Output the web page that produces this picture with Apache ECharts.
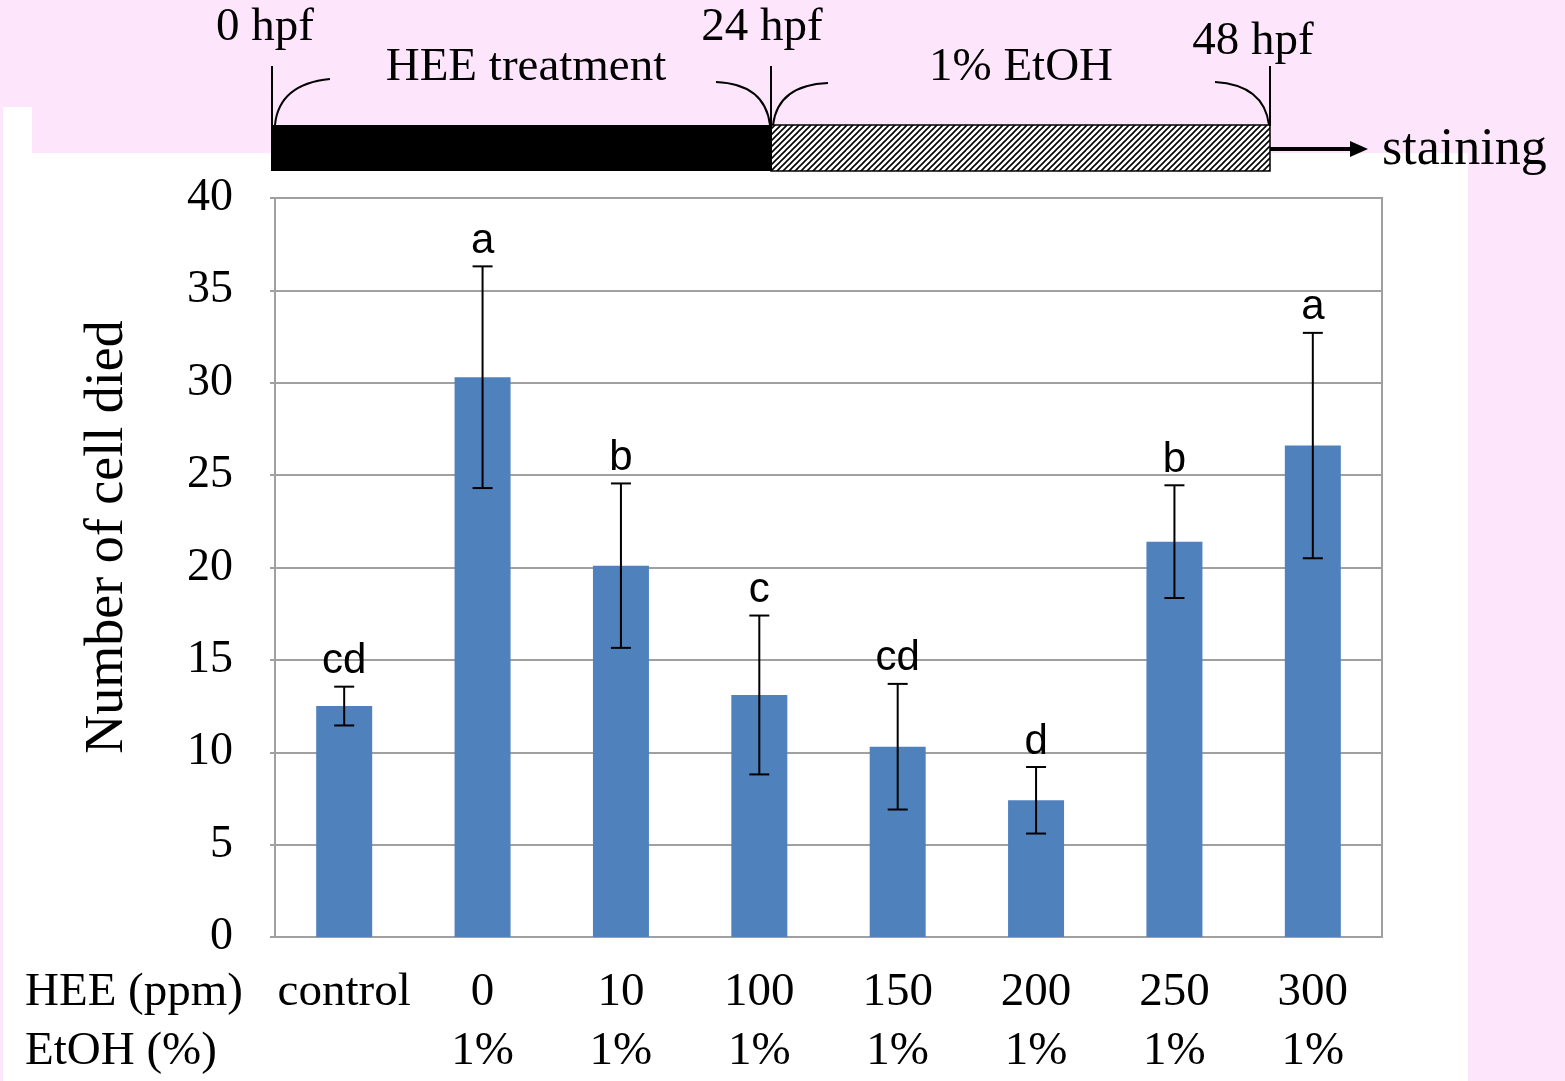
<!DOCTYPE html>
<html>
<head>
<meta charset="utf-8">
<script src="https://cdn.jsdelivr.net/npm/echarts@6/dist/echarts.min.js"></script>
<style>
body { margin: 0; background: #fde6fb; }
#wrap { position: relative; width: 1565px; height: 1081px; }
.w { position: absolute; background: #fff; }
#chart { position: absolute; left: 0; top: 0; width: 1565px; height: 1081px; }
</style>
</head>
<body>
<div id="wrap">
    <div class="w" style="left:3px;top:153px;width:1465px;height:928px"></div>
    <div class="w" style="left:3px;top:107px;width:29px;height:46px"></div>
    <div id="chart"></div>
</div>
<script>
var hee = ['control', '0', '10', '100', '150', '200', '250', '300'];
var etoh = ['', '1%', '1%', '1%', '1%', '1%', '1%', '1%'];
var means = [12.5, 30.3, 20.1, 13.1, 10.3, 7.4, 21.4, 26.6];
var errs = [1.05, 6.0, 4.45, 4.3, 3.4, 1.8, 3.05, 6.1];
var letters = ['cd', 'a', 'b', 'c', 'cd', 'd', 'b', 'a'];

var serif = '"Liberation Serif", "Times New Roman", serif';
var gray = '#a0a0a0';

// hatch pattern for the EtOH bar
var pc = document.createElement('canvas');
pc.width = 6; pc.height = 6;
var ctx = pc.getContext('2d');
ctx.fillStyle = '#fff';
ctx.fillRect(0, 0, 6, 6);
ctx.strokeStyle = '#000';
ctx.lineWidth = 1.6;
ctx.beginPath();
ctx.moveTo(-1, 7); ctx.lineTo(7, -1);
ctx.moveTo(-4, 4); ctx.lineTo(4, -4);
ctx.moveTo(2, 10); ctx.lineTo(10, 2);
ctx.stroke();

function txt(s, x, y, size, align) {
    return {
        type: 'text', x: x, y: y, silent: true,
        style: { text: s, font: size + 'px ' + serif, fill: '#000', align: align || 'center', verticalAlign: 'middle' }
    };
}
function vline(x, y1, y2, w) {
    return { type: 'line', shape: { x1: x, y1: y1, x2: x, y2: y2 }, style: { stroke: '#000', lineWidth: w || 2 } };
}
function arc(x1, y1, cx, cy, x2, y2) {
    return {
        type: 'bezierCurve',
        shape: { x1: x1, y1: y1, cpx1: cx, cpy1: cy, x2: x2, y2: y2 },
        style: { stroke: '#000', lineWidth: 2, fill: null }
    };
}

var myChart = echarts.init(document.getElementById('chart'));
var option = {
    animation: false,
    grid: {
        left: 275, top: 198, right: 183, bottom: 144,
        show: true, borderColor: gray, borderWidth: 2
    },
    xAxis: {
        type: 'category',
        data: hee,
        axisTick: { show: false },
        axisLine: { lineStyle: { color: gray, width: 2 } },
        axisLabel: {
            interval: 0,
            margin: 26,
            fontFamily: serif,
            fontSize: 47,
            lineHeight: 59,
            color: '#000',
            formatter: function (v, i) {
                return v + '\n' + etoh[i];
            }
        }
    },
    yAxis: {
        type: 'value',
        min: 0, max: 40, interval: 5,
        axisLine: { show: true, lineStyle: { color: gray, width: 2 } },
        axisTick: { show: true, length: 5, lineStyle: { color: gray, width: 2 } },
        splitLine: { lineStyle: { color: gray, width: 2 } },
        axisLabel: { margin: 42, fontFamily: serif, fontSize: 46, color: '#000' }
    },
    series: [
        {
            type: 'bar',
            data: means,
            barWidth: 56,
            itemStyle: { color: '#4f81bd' }
        },
        {
            type: 'custom',
            data: means.map(function (m, i) { return [i, m, errs[i]]; }),
            renderItem: function (params, api) {
                var i = api.value(0), m = api.value(1), e = api.value(2);
                var top = api.coord([i, m + e]);
                var bot = api.coord([i, m - e]);
                var hw = 10;
                return {
                    type: 'group',
                    children: [
                        { type: 'line', shape: { x1: top[0], y1: top[1], x2: bot[0], y2: bot[1] }, style: { stroke: '#000', lineWidth: 2 } },
                        { type: 'line', shape: { x1: top[0] - hw, y1: top[1], x2: top[0] + hw, y2: top[1] }, style: { stroke: '#000', lineWidth: 2 } },
                        { type: 'line', shape: { x1: bot[0] - hw, y1: bot[1], x2: bot[0] + hw, y2: bot[1] }, style: { stroke: '#000', lineWidth: 2 } },
                        {
                            type: 'text',
                            style: {
                                text: letters[params.dataIndex], x: top[0], y: top[1] - 25,
                                align: 'center', verticalAlign: 'middle',
                                font: '42px "Liberation Sans", Arial, sans-serif', fill: '#000'
                            }
                        }
                    ]
                };
            },
            z: 5
        }
    ],
    graphic: [
        // timeline
        { type: 'rect', shape: { x: 272, y: 125, width: 499, height: 46 }, style: { fill: '#000' } },
        { type: 'rect', shape: { x: 771, y: 125, width: 499, height: 46 }, style: { fill: { image: pc, repeat: 'repeat' }, stroke: '#000', lineWidth: 1.5 } },
        vline(272, 66, 171),
        vline(771, 66, 171),
        vline(1270, 66, 126),
        arc(275, 125, 279, 84, 330, 79),
        arc(716, 82, 765, 84, 770, 125),
        arc(773, 125, 778, 85, 828, 83),
        arc(1215, 82, 1264, 85, 1269, 125),
        { type: 'line', shape: { x1: 1270, y1: 149, x2: 1352, y2: 149 }, style: { stroke: '#000', lineWidth: 4 } },
        { type: 'polygon', shape: { points: [[1350, 141], [1368, 149], [1350, 157]] }, style: { fill: '#000' } },
        txt('0 hpf', 265, 28, 47),
        txt('HEE treatment', 526, 68, 47),
        txt('24 hpf', 762, 28, 47),
        txt('1% EtOH', 1021, 68, 47),
        txt('48 hpf', 1253, 42, 47),
        txt('staining', 1382, 150, 52, 'left'),
        // row headers and y name
        txt('HEE (ppm)', 25, 993, 47, 'left'),
        txt('EtOH (%)', 25, 1052, 47, 'left'),
        {
            type: 'text', x: 108, y: 537, rotation: Math.PI / 2, silent: true,
            style: { text: 'Number of cell died', font: '54px ' + serif, fill: '#000', align: 'center', verticalAlign: 'middle' }
        }
    ]
};
myChart.setOption(option);
</script>
</body>
</html>
